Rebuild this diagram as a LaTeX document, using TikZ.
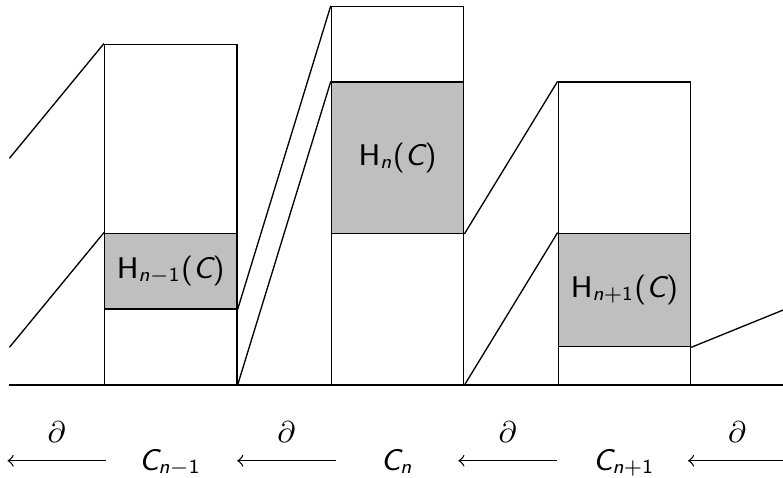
\documentclass[tikz,border=0pt]{standalone}
\usepackage{amsmath, amssymb}
\usepackage{xcolor}
\usepackage{tikz}
\usetikzlibrary{positioning, calc}
\definecolor{HomGray}{gray}{0.75}

% sans letters in formulas
\newcommand{\sfup}[1]{\textsf{#1}}
\newcommand{\sfvar}[1]{\textsf{\itshape #1}}
\newcommand{\HomC}[1]{\sfup{H}_{#1}\sfup{(}\sfvar{C}\sfup{)}}

\tikzset{
  chainbox/.style={draw, line width=0.4pt, minimum width=1.4cm, inner sep=0pt, anchor=south west},
  homolbox/.style={chainbox, fill=HomGray, font=\small},
  termnode/.style={font=\small, anchor=base},
}

\begin{document}
\begin{tikzpicture}
  \useasboundingbox (-1.1,-0.975) rectangle (7.185,4.075);

  % chain groups C_{n-1}, C_n, C_{n+1}
  \node[chainbox, minimum height=3.6cm] (cprev) at (0,0) {};
  \node[chainbox, minimum height=4cm]   (ccur)  at (2.4,0) {};
  \node[chainbox, minimum height=3.2cm] (cnext) at (4.8,0) {};

  % homology pieces
  \node[homolbox, minimum height=0.8cm] (hprev) at (0,0.8)   {$\HomC{\sfvar{n}-\sfup{1}}$};
  \node[homolbox, minimum height=1.6cm] (hcur)  at (2.4,1.6) {$\HomC{\sfvar{n}}$};
  \node[homolbox, minimum height=1.2cm] (hnext) at (4.8,0.4) {$\HomC{\sfvar{n}+\sfup{1}}$};

  \draw (-1,0) -- (7.2,0);

  % images of the boundary maps
  \coordinate (lefttop) at (-1,2.4);
  \coordinate (leftlow) at (-1,0.4);
  \coordinate (rightend) at (7.2,0.8);
  \draw (lefttop) -- (cprev.north west);
  \draw (leftlow) -- (hprev.north west);
  \draw (hprev.south east) -- (ccur.north west);
  \draw (cprev.south east) -- (hcur.north west);
  \draw (hcur.south east) -- (cnext.north west);
  \draw (ccur.south east) -- (hnext.north west);
  \draw (hnext.south east) -- (rightend);

  % the complex
  \node[termnode] (tprev) at (0.7,-0.9) {$\sfvar{C}_{\sfvar{n}-\sfup{1}}$};
  \node[termnode] (tcur)  at (3.1,-0.9) {$\sfvar{C}_{\sfvar{n}}$};
  \node[termnode] (tnext) at (5.5,-0.9) {$\sfvar{C}_{\sfvar{n}+\sfup{1}}$};
  \foreach \g [count=\i] in {-0.5,1.93,4.27,6.7} {
    \coordinate (al\i) at (\g-0.52,-0.8);
    \coordinate (ar\i) at (\g+0.52,-0.8);
    \draw[<-] (al\i) -- node[above=2pt, font=\small] {$\partial$} (ar\i);
  }
\end{tikzpicture}
\end{document}
